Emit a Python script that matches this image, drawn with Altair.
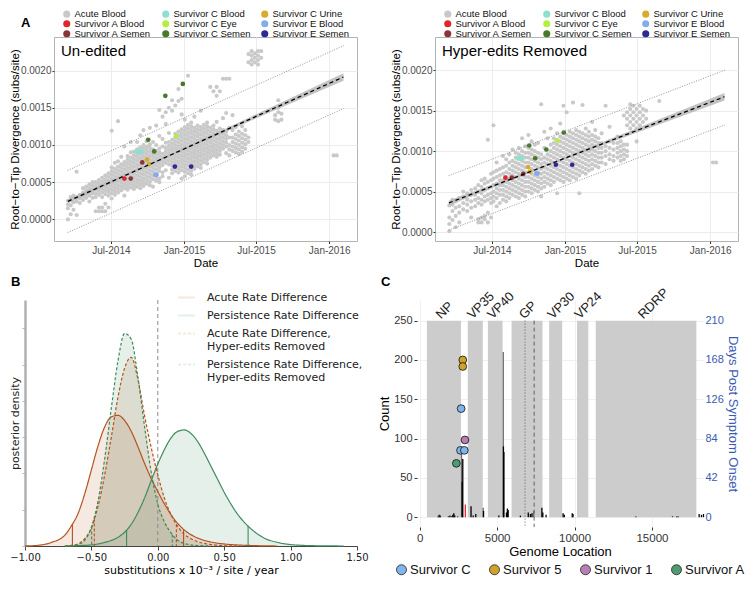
import altair as alt
import pandas as pd

FONT = "Liberation Sans"
MPL = "DejaVu Sans"

# ======================= Panel A data =======================
A_GROUPS = ["Acute Blood", "Survivor A Blood", "Survivor A Semen",
            "Survivor C Blood", "Survivor C Eye", "Survivor C Semen",
            "Survivor C Urine", "Survivor E Blood", "Survivor E Semen"]
A_COLORS = ["#c9c9c9", "#e0252b", "#8a3535", "#8de0cf", "#b3ef3e",
            "#46792c", "#d8aa30", "#85aaee", "#2f2995"]

# Acute blood cloud, un-edited; divergence in units of 1e-4 subs/site, one list per date
un_dates = ["2014-03-15", "2014-03-22", "2014-03-29", "2014-04-06", "2014-04-14", "2014-04-22",
            "2014-04-30", "2014-05-08", "2014-05-16", "2014-05-24", "2014-06-01", "2014-06-09",
            "2014-06-17", "2014-06-25", "2014-07-03", "2014-07-11", "2014-07-19", "2014-07-27",
            "2014-08-04", "2014-08-12", "2014-08-20", "2014-08-28", "2014-09-05", "2014-09-13",
            "2014-09-21", "2014-09-29", "2014-10-07", "2014-10-15", "2014-10-23", "2014-10-31",
            "2014-11-08", "2014-11-16", "2014-11-24", "2014-12-02", "2014-12-10", "2014-12-18",
            "2014-12-26", "2015-01-03", "2015-01-11", "2015-01-19", "2015-01-27", "2015-02-04",
            "2015-02-12", "2015-02-20", "2015-02-28", "2015-03-08", "2015-03-16", "2015-03-24",
            "2015-04-01", "2015-04-09", "2015-04-17", "2015-04-25", "2015-05-03", "2015-05-11",
            "2015-05-19", "2015-05-27", "2015-06-04", "2015-06-12", "2015-06-20", "2015-06-28",
            "2015-07-06", "2015-07-14", "2015-08-18", "2015-08-26", "2015-09-03", "2016-01-12",
            "2016-01-20"]
un_divs = [
    [0.0, 1.5, 2.0, 2.5], [0.7, 1.9, 2.6, 3.0], [1.3, 2.3, 3.2], [0.6, 2.4, 2.9, 6.4],
    [2.2, 2.8, 3.3], [2.6, 3.1, 3.6, 4.2], [2.9, 3.4, 3.9, 4.4], [2.4, 3.2, 3.7, 4.2, 4.7],
    [2.9, 3.5, 4.0, 4.5, 5.0], [1.1, 3.0, 3.5, 4.0, 4.5, 5.0], [1.1, 1.6, 3.3, 3.8, 4.3, 4.8, 5.3],
    [1.1, 1.6, 3.0, 3.6, 4.1, 4.6, 5.1, 5.6], [1.1, 2.1, 3.4, 3.9, 4.4, 4.9, 5.4, 5.9],
    [1.6, 3.2, 3.7, 4.2, 4.7, 5.2, 5.7, 6.2],
    [2.8, 3.5, 4.0, 4.5, 5.0, 5.5, 6.0, 6.5, 7.0, 11.9],
    [3.3, 3.8, 4.3, 4.8, 5.3, 5.8, 6.3, 6.8, 7.6],
    [3.6, 4.1, 4.6, 5.1, 5.6, 6.1, 6.6, 7.1, 7.8, 13.2],
    [3.9, 4.4, 4.9, 5.4, 5.9, 6.4, 6.9, 7.4, 8.4],
    [3.2, 4.2, 4.7, 5.2, 5.7, 6.2, 6.7, 7.2, 7.7, 9.8],
    [4.0, 4.5, 5.0, 5.5, 6.0, 6.5, 7.0, 7.5, 8.0, 8.5],
    [4.3, 4.8, 5.3, 5.8, 6.3, 6.8, 7.3, 7.8, 8.3, 9.0, 10.4],
    [4.1, 4.6, 5.1, 5.6, 6.1, 6.6, 7.1, 7.6, 8.1, 8.6, 9.1],
    [4.4, 4.9, 5.4, 5.9, 6.4, 6.9, 7.4, 7.9, 8.4, 8.9, 9.4, 10.4],
    [4.2, 4.7, 5.2, 5.7, 6.2, 6.7, 7.2, 7.7, 8.2, 8.7, 9.2, 9.7, 11.3],
    [4.5, 5.0, 5.5, 6.0, 6.5, 7.0, 7.5, 8.0, 8.5, 9.0, 9.5, 10.0, 12.0],
    [4.8, 5.3, 5.8, 6.3, 6.8, 7.3, 7.8, 8.3, 8.8, 9.3, 9.8, 10.5],
    [4.6, 5.1, 5.6, 6.1, 6.6, 7.1, 7.6, 8.1, 8.6, 9.1, 9.6, 10.1, 12.3],
    [4.4, 5.4, 5.9, 6.4, 6.9, 7.4, 7.9, 8.4, 8.9, 9.4, 10.4],
    [5.2, 5.7, 6.2, 6.7, 7.2, 7.7, 8.2, 8.7, 9.2, 10.0, 12.6],
    [5.0, 5.5, 6.5, 7.0, 7.5, 8.0, 8.5, 9.0, 9.5, 11.2, 14.7],
    [5.8, 6.3, 7.3, 7.8, 8.3, 8.8, 9.8, 10.8, 13.8],
    [6.6, 7.6, 8.1, 8.6, 9.1, 9.6, 10.3, 12.8, 14.4],
    [5.6, 7.4, 7.9, 8.4, 8.9, 9.4, 9.9, 10.4, 11.6, 15.0],
    [6.2, 6.7, 7.2, 7.7, 8.2, 8.7, 9.2, 9.7, 10.2, 10.7, 14.6, 16.0],
    [6.5, 7.0, 7.5, 8.0, 8.5, 9.0, 9.5, 10.0, 10.5, 11.0, 11.5, 15.3],
    [6.3, 6.8, 7.3, 7.8, 8.3, 8.8, 9.3, 9.8, 10.3, 10.8, 11.3, 11.8, 15.9, 17.5],
    [5.5, 6.6, 7.1, 7.6, 8.1, 8.6, 9.1, 9.6, 10.1, 10.6, 11.1, 11.6, 12.1, 14.1, 16.2],
    [5.8, 6.4, 6.9, 7.4, 7.9, 8.4, 8.9, 9.4, 9.9, 10.4, 10.9, 11.4, 11.9, 12.4, 13.4],
    [6.2, 6.7, 7.2, 7.7, 8.2, 8.7, 9.2, 9.7, 10.2, 10.7, 11.2, 11.7, 12.2, 12.7, 19.3],
    [6.0, 6.5, 7.0, 7.5, 8.0, 8.5, 9.0, 9.5, 10.0, 10.5, 11.0, 11.5, 12.0, 12.5, 13.0],
    [6.8, 7.3, 7.8, 8.3, 8.8, 9.3, 9.8, 10.3, 10.8, 11.3, 11.8, 12.3, 13.8],
    [7.1, 7.6, 8.1, 8.6, 9.1, 9.6, 10.1, 10.6, 11.1, 11.6, 12.1, 12.6],
    [6.9, 7.4, 7.9, 8.4, 8.9, 9.4, 9.9, 10.4, 10.9, 11.4, 11.9, 12.4, 14.6],
    [7.7, 8.2, 8.7, 9.2, 9.7, 10.2, 10.7, 11.2, 11.7, 12.2, 12.7],
    [7.5, 8.0, 8.5, 9.0, 9.5, 10.0, 10.5, 11.0, 11.5, 12.0, 12.5, 13.0],
    [8.3, 8.8, 9.3, 9.8, 10.3, 10.8, 11.3, 11.8, 12.3, 17.8],
    [8.6, 9.1, 9.6, 10.1, 10.6, 11.1, 11.6, 12.1, 12.6, 17.2],
    [8.4, 8.9, 9.4, 9.9, 10.4, 10.9, 11.4, 11.9, 13.1, 16.6, 17.8],
    [8.7, 9.2, 9.7, 10.2, 10.7, 11.2, 11.7, 12.2, 17.2],
    [9.5, 10.0, 10.5, 11.0, 11.5, 12.0, 13.6, 18.9],
    [8.9, 9.8, 10.3, 10.8, 11.3, 11.8, 14.3, 18.9],
    [8.6, 9.4, 10.0, 11.0, 12.3, 18.9],
    [9.2, 9.8, 10.4, 11.0, 12.0, 14.0],
    [9.0, 9.6, 10.2, 10.8, 11.4, 12.4],
    [8.8, 9.4, 10.0, 10.6, 11.2, 11.8],
    [9.1, 9.7, 10.3, 10.9, 11.5, 12.5],
    [9.5, 10.1, 10.7, 11.3, 12.0],
    [10.4, 11.0, 21.1, 22.2],
    [20.8, 21.4, 22.0, 22.6],
    [21.1, 21.7, 22.3],
    [20.8, 21.4, 22.0, 22.6],
    [21.7, 22.6],
    [13.4, 14.0],
    [13.2, 14.4, 15.0, 16.0],
    [13.4, 14.2],
    [8.6],
    [8.6],
]

# Acute blood cloud, hyper-edits removed (1e-4 subs/site)
he_dates = ["2014-03-16", "2014-03-24", "2014-04-01", "2014-04-10", "2014-04-20", "2014-04-30",
            "2014-05-10", "2014-05-20", "2014-05-28", "2014-06-05", "2014-06-13", "2014-06-21",
            "2014-06-29", "2014-07-05", "2014-07-13", "2014-07-21", "2014-07-29", "2014-08-06",
            "2014-08-14", "2014-08-22", "2014-08-30", "2014-09-07", "2014-09-15", "2014-09-23",
            "2014-10-01", "2014-10-09", "2014-10-17", "2014-10-25", "2014-11-02", "2014-11-10",
            "2014-11-18", "2014-11-26", "2014-12-04", "2014-12-12", "2014-12-20", "2014-12-28",
            "2015-01-05", "2015-01-13", "2015-01-21", "2015-01-29", "2015-02-06", "2015-02-14",
            "2015-02-22", "2015-03-02", "2015-03-10", "2015-03-18", "2015-03-26", "2015-04-03",
            "2015-04-13", "2015-04-23", "2015-05-03", "2015-05-13", "2015-05-21", "2015-05-29",
            "2015-06-06", "2015-06-14", "2015-06-22", "2015-06-30", "2015-07-08", "2015-07-16",
            "2015-07-24", "2015-08-26", "2016-01-08", "2016-01-16"]
he_divs = [
    [0.1, 1.0, 1.8, 3.3], [1.5, 2.6, 3.4, 4.0], [0.6, 2.0, 3.0, 3.8], [1.2, 2.4, 3.2, 4.2],
    [2.8, 3.6, 4.4, 5.0], [2.6, 3.4, 4.0, 4.8], [1.8, 3.0, 3.8, 4.6, 5.2],
    [3.2, 4.0, 4.6, 5.4], [1.2, 1.6, 3.6, 4.2, 5.0, 5.8],
    [1.2, 1.8, 3.4, 4.0, 4.8, 5.6, 6.4], [1.6, 2.0, 3.8, 4.4, 5.2, 6.0, 6.6],
    [1.2, 2.4, 4.0, 4.6, 5.4, 6.2, 11.4], [1.8, 3.6, 4.2, 4.8, 5.6, 6.4, 7.2],
    [3.8, 4.4, 5.0, 5.8, 6.6, 7.4, 13.2], [3.2, 4.2, 4.8, 5.4, 6.0, 6.8, 7.6, 8.6],
    [3.6, 4.6, 5.2, 5.8, 6.4, 7.0, 7.8], [4.0, 4.6, 5.2, 5.8, 6.4, 7.2, 8.0, 9.4],
    [3.8, 4.4, 5.0, 5.6, 6.2, 6.8, 7.4, 8.2, 9.0],
    [4.2, 4.8, 5.4, 6.0, 6.6, 7.2, 7.8, 8.6, 9.6],
    [4.6, 5.2, 5.8, 6.4, 7.0, 7.6, 8.2, 8.8, 10.2],
    [4.4, 5.0, 5.6, 6.2, 6.8, 7.4, 8.0, 8.6, 9.2, 9.8],
    [4.2, 4.8, 5.4, 6.0, 6.6, 7.2, 7.8, 8.4, 9.0, 9.6, 10.4],
    [4.6, 5.2, 5.8, 6.4, 7.0, 7.6, 8.2, 8.8, 9.4, 10.0, 11.6],
    [4.4, 5.0, 5.6, 6.2, 6.8, 7.4, 8.0, 8.6, 9.2, 9.8, 10.6],
    [5.0, 5.6, 6.2, 6.8, 7.4, 8.0, 8.6, 9.2, 9.8, 10.4, 12.0],
    [4.8, 5.4, 6.0, 6.6, 7.2, 7.8, 8.4, 9.0, 9.6, 10.2, 11.2],
    [5.2, 5.8, 6.4, 7.0, 7.6, 8.2, 8.8, 9.4, 10.0, 10.8],
    [5.0, 5.6, 6.2, 6.8, 7.4, 8.0, 8.6, 9.2, 9.8, 11.0],
    [4.4, 5.4, 6.0, 6.6, 7.2, 7.8, 8.4, 9.0, 9.6, 15.8],
    [5.6, 6.2, 6.8, 7.4, 8.0, 8.6, 9.2, 10.4, 12.4],
    [6.0, 6.6, 7.2, 7.8, 8.4, 9.0, 9.6, 11.6],
    [5.8, 6.4, 7.0, 7.6, 8.2, 8.8, 9.4, 10.0, 10.8, 12.8],
    [6.2, 6.8, 7.4, 8.0, 8.6, 9.2, 9.8, 10.4, 11.0, 11.6],
    [4.8, 6.6, 7.2, 7.8, 8.4, 9.0, 9.6, 10.2, 10.8, 11.4, 12.2],
    [6.4, 7.0, 7.6, 8.2, 8.8, 9.4, 10.0, 10.6, 11.2, 11.8, 13.4],
    [6.2, 6.8, 7.4, 8.0, 8.6, 9.2, 9.8, 10.4, 11.0, 11.6, 12.2, 15.6],
    [6.6, 7.2, 7.8, 8.4, 9.0, 9.6, 10.2, 10.8, 11.4, 12.0, 14.8],
    [6.4, 7.0, 7.6, 8.2, 8.8, 9.4, 10.0, 10.6, 11.2, 11.8, 12.4],
    [6.8, 7.4, 8.0, 8.6, 9.2, 9.8, 10.4, 11.0, 11.6, 12.2, 16.0],
    [6.6, 7.2, 7.8, 8.4, 9.0, 9.6, 10.2, 10.8, 11.4, 12.0, 12.6],
    [4.8, 7.0, 7.6, 8.2, 8.8, 9.4, 10.0, 10.6, 11.2, 11.8, 12.4],
    [7.4, 8.0, 8.6, 9.2, 9.8, 10.4, 11.0, 11.6, 12.2, 15.7],
    [7.2, 7.8, 8.4, 9.0, 9.6, 10.2, 10.8, 11.4, 12.0, 12.8],
    [7.6, 8.2, 8.8, 9.4, 10.0, 10.6, 11.2, 11.8, 12.4],
    [7.8, 8.4, 9.0, 9.6, 10.2, 10.8, 11.4, 12.0, 13.6],
    [8.2, 8.8, 9.4, 10.0, 10.6, 11.2, 11.8, 12.6],
    [8.0, 8.6, 9.2, 9.8, 10.4, 11.0, 11.6],
    [8.6, 9.2, 9.8, 10.4, 11.0, 12.2],
    [8.4, 9.4, 10.0, 10.6, 15.6],
    [9.0, 9.6, 10.4, 11.2, 13.0],
    [8.8, 9.4, 10.2, 11.0],
    [9.2, 9.8, 10.4, 11.0, 11.8],
    [8.8, 9.4, 10.0, 10.6, 11.2],
    [9.0, 9.6, 10.2, 10.8, 14.4],
    [9.4, 10.0, 10.8, 13.2, 14.0, 14.8],
    [12.8, 13.6, 14.4, 15.2, 15.8],
    [13.2, 14.0, 14.8, 15.6],
    [11.2, 12.8, 13.6, 14.4, 15.2],
    [13.2, 14.0, 14.8, 15.6],
    [13.6, 14.4, 15.2],
    [14.0, 15.0],
    [16.2],
    [8.6],
    [8.6],
]

# Survivor samples (1e-4 subs/site)
sv_groups = ["Survivor A Blood", "Survivor A Semen", "Survivor A Semen",
             "Survivor C Blood", "Survivor C Blood", "Survivor C Blood",
             "Survivor C Urine", "Survivor C Urine",
             "Survivor C Semen", "Survivor C Semen", "Survivor C Semen", "Survivor C Semen",
             "Survivor C Eye", "Survivor E Blood", "Survivor E Blood",
             "Survivor E Semen", "Survivor E Semen"]
sv_dates = ["2014-08-04", "2014-08-20", "2014-09-18",
            "2014-09-05", "2014-09-10", "2014-09-15",
            "2014-09-30", "2014-10-05",
            "2014-10-03", "2014-10-18", "2014-11-15", "2014-12-29",
            "2014-12-12", "2014-10-21", "2014-10-24",
            "2014-12-09", "2015-01-19"]
sv_un = [5.48, 5.48, 7.65, 9.13, 9.13, 9.13, 8.04, 7.43, 10.7, 9.13, 16.6, 18.2,
         11.2, 6.0, 6.0, 7.09, 7.09]
sv_he = [6.72, 6.72, 7.2, 9.12, 9.12, 9.12, 8.04, 7.48, 10.7, 9.12, 10.2, 12.3,
         11.3, 7.24, 7.24, 8.32, 8.32]

# Regression fit (dashed) with confidence ribbon, and prediction bounds (dotted)
fit_dates = ["2014-03-15", "2014-08-01", "2014-12-01", "2015-06-01", "2016-02-06"]
fit_un = [2.43, 5.78, 8.72, 13.11, 19.13]
ci_un = [0.30, 0.17, 0.12, 0.25, 0.50]
fit_he = [3.60, 6.23, 8.54, 11.99, 16.72]
ci_he = [0.30, 0.17, 0.12, 0.25, 0.45]
pred_dates = ["2014-03-14", "2016-02-07"]
pred_un_hi = [6.57, 23.35]
pred_un_lo = [-1.78, 14.90]
pred_he_hi = [6.96, 20.00]
pred_he_lo = [0.24, 13.24]

A_TICKS = [alt.DateTime(year=2014, month=7, date=1), alt.DateTime(year=2015, month=1, date=1),
           alt.DateTime(year=2015, month=7, date=1), alt.DateTime(year=2016, month=1, date=1)]
A_XDOM = [alt.DateTime(year=2014, month=2, date=8), alt.DateTime(year=2016, month=3, date=11)]
A_YTICKS = [0, 0.0005, 0.001, 0.0015, 0.002]
A_W = 303
A_H = 204

E4 = 1e-4


def cloud_df(dates, divs):
    rows = []
    for d, vs in zip(dates, divs):
        for v in vs:
            rows.append({"date": d, "div": v * E4, "group": "Acute Blood"})
    return pd.DataFrame(rows)


def panel_a(title, cdates, cdivs, sv_vals, fit_vals, ci_vals, hi_vals, lo_vals, ydom, letter):
    xa = alt.X("date:T", scale=alt.Scale(domain=A_XDOM),
               axis=alt.Axis(values=A_TICKS, format="%b-%Y", title="Date", labelFontSize=10,
                             titleFontSize=11.5, labelColor="#4d4d4d", tickColor="#333333",
                             tickSize=2.5, domain=False, gridColor="#ececec", labelFlush=False,
                             labelPadding=2, titlePadding=2, labelFont=FONT, titleFont=FONT,
                             titleFontWeight="normal"))

    def ya(field):
        return alt.Y(field, scale=alt.Scale(domain=ydom, nice=False, zero=False),
                     axis=alt.Axis(values=A_YTICKS, format=".4f",
                                   title="Root\u2212to\u2212Tip Divergence (subs/site)",
                                   labelFontSize=10, titleFontSize=11.5, labelColor="#4d4d4d",
                                   tickColor="#333333", tickSize=2, domain=False,
                                   gridColor="#ececec", labelPadding=1, titlePadding=0,
                                   labelFont=FONT, titleFont=FONT, titleFontWeight="normal"))

    leg = alt.Legend(title=None, orient="none", legendX=8, legendY=-28, columns=3,
                     symbolType="circle", symbolSize=50, symbolStrokeWidth=0,
                     labelFontSize=9.5, labelFont=FONT, labelColor="#111111",
                     rowPadding=-5, columnPadding=9, labelOffset=3, padding=0)
    col = alt.Color("group:N", scale=alt.Scale(domain=A_GROUPS, range=A_COLORS), legend=leg)

    cdf = cloud_df(cdates, cdivs)
    sdf = pd.DataFrame({"group": sv_groups, "date": sv_dates, "div": [v * E4 for v in sv_vals]})
    fdf = pd.DataFrame({"date": fit_dates, "div": [v * E4 for v in fit_vals],
                        "lo": [(f - c) * E4 for f, c in zip(fit_vals, ci_vals)],
                        "hi": [(f + c) * E4 for f, c in zip(fit_vals, ci_vals)]})
    pdf = pd.DataFrame({"date": pred_dates * 2, "div": [v * E4 for v in hi_vals + lo_vals],
                        "side": ["hi", "hi", "lo", "lo"]})

    cloud = alt.Chart(cdf).mark_circle(size=17, opacity=1).encode(x=xa, y=ya("div:Q"), color=col)
    band = alt.Chart(fdf).mark_area(color="#b9b9b9", opacity=0.85).encode(
        x=xa, y=ya("lo:Q"), y2="hi:Q")
    surv = alt.Chart(sdf).mark_circle(size=22, opacity=1).encode(x=xa, y=ya("div:Q"), color=col)
    fit = alt.Chart(fdf).mark_line(color="black", strokeDash=[4, 3], strokeWidth=1.3).encode(
        x=xa, y=ya("div:Q"))
    pred = alt.Chart(pdf).mark_line(color="#7a7a7a", strokeDash=[1, 1.5], strokeWidth=0.8).encode(
        x=xa, y=ya("div:Q"), detail="side:N")
    txt = alt.Chart(pd.DataFrame({"t": [title]})).mark_text(
        align="left", baseline="alphabetic", fontSize=15, font=FONT, color="black").encode(
        x=alt.value(7), y=alt.value(19), text="t:N")
    layers = [cloud, band, surv, fit, pred, txt]
    if letter:
        lab = alt.Chart(pd.DataFrame({"t": [letter]})).mark_text(
            align="left", baseline="top", fontSize=13, fontWeight="bold", font=FONT,
            color="black").encode(x=alt.value(-33), y=alt.value(-20), text="t:N")
        layers.append(lab)
    return alt.layer(*layers).properties(
        width=A_W, height=A_H, view=alt.ViewBackground(stroke="#b3b3b3", strokeWidth=1))


A1 = panel_a("Un-edited", un_dates, un_divs, sv_un, fit_un, ci_un, pred_un_hi, pred_un_lo,
             [-0.00029, 0.00245], "A")
A2 = panel_a("Hyper-edits Removed", he_dates, he_divs, sv_he, fit_he, ci_he, pred_he_hi,
             pred_he_lo, [-0.00011, 0.00241], None)

# ======================= Panel B data =======================
B_SERIES = ["Acute Rate Difference", "Persistence Rate Difference",
            "Acute Rate Difference, Hyper-edits Removed",
            "Persistence Rate Difference, Hyper-edits Removed"]
B_COLORS = ["#b4531e", "#3d8b5d", "#b4531e", "#3d8b5d"]
B_DASH = [[1, 0], [1, 0], [3, 2], [3, 2]]

as_x = [-1.0, -0.9, -0.8, -0.7, -0.65, -0.6, -0.55, -0.5, -0.45, -0.4, -0.35, -0.3, -0.25, -0.2,
        -0.15, -0.1, -0.05, 0.0, 0.05, 0.1, 0.15, 0.2, 0.3, 0.4, 0.5, 0.6, 0.7, 0.8, 0.9]
as_d = [0.0, 0.01, 0.05, 0.15, 0.28, 0.45, 0.72, 1.05, 1.38, 1.64, 1.78, 1.80, 1.73, 1.58,
        1.37, 1.14, 0.93, 0.75, 0.58, 0.43, 0.31, 0.22, 0.11, 0.055, 0.028, 0.014, 0.007, 0.002, 0.0]
ps_x = [-0.7, -0.6, -0.5, -0.4, -0.3, -0.25, -0.2, -0.15, -0.1, -0.05, 0.0, 0.05, 0.1, 0.15, 0.2,
        0.25, 0.3, 0.35, 0.4, 0.45, 0.5, 0.55, 0.6, 0.65, 0.7, 0.8, 0.9, 1.0, 1.1, 1.2, 1.3, 1.4]
ps_d = [0.0, 0.005, 0.015, 0.05, 0.12, 0.19, 0.30, 0.46, 0.66, 0.90, 1.13, 1.33, 1.49, 1.58, 1.60,
        1.55, 1.44, 1.28, 1.10, 0.92, 0.74, 0.58, 0.44, 0.33, 0.24, 0.11, 0.05, 0.02, 0.008, 0.003,
        0.001, 0.0]
ad_x = [-0.7, -0.65, -0.6, -0.55, -0.5, -0.45, -0.4, -0.35, -0.3, -0.25, -0.2, -0.15, -0.1, -0.05,
        0.0, 0.05, 0.1, 0.15, 0.2, 0.25, 0.3, 0.4, 0.5, 0.6]
ad_d = [0.0, 0.01, 0.03, 0.1, 0.25, 0.55, 0.98, 1.5, 2.05, 2.45, 2.60, 2.30, 1.80, 1.36, 0.98,
        0.66, 0.43, 0.27, 0.16, 0.10, 0.06, 0.02, 0.005, 0.0]
pd_x = [-0.7, -0.65, -0.6, -0.55, -0.5, -0.45, -0.4, -0.35, -0.3, -0.25, -0.2, -0.15, -0.1, -0.05,
        0.0, 0.05, 0.1, 0.15, 0.2, 0.3, 0.4]
pd_d = [0.0, 0.005, 0.02, 0.08, 0.26, 0.62, 1.2, 1.9, 2.55, 2.93, 2.85, 2.33, 1.65, 1.02, 0.58,
        0.33, 0.18, 0.08, 0.035, 0.006, 0.0]

hpd_series = [B_SERIES[0], B_SERIES[0], B_SERIES[1], B_SERIES[1],
              B_SERIES[2], B_SERIES[2], B_SERIES[3], B_SERIES[3]]
hpd_x = [-0.643, 0.194, -0.235, 0.68, -0.478, 0.14, -0.498, 0.109]
hpd_d = [0.30, 0.23, 0.22, 0.28, 0.38, 0.30, 0.27, 0.16]

curves = pd.concat([
    pd.DataFrame({"series": B_SERIES[0], "x": as_x, "d": as_d}),
    pd.DataFrame({"series": B_SERIES[1], "x": ps_x, "d": ps_d}),
    pd.DataFrame({"series": B_SERIES[2], "x": ad_x, "d": ad_d}),
    pd.DataFrame({"series": B_SERIES[3], "x": pd_x, "d": pd_d}),
], ignore_index=True)
hpd = pd.DataFrame({"series": hpd_series, "x": hpd_x, "d": hpd_d})

B_W = 303      # view width (shares its left edge with panel A's plot)
B_LEFT = 29    # the density axis sits this far left of that edge
bx = alt.X("x:Q", scale=alt.Scale(domain=[-1, 1.5], range=[-B_LEFT, B_W], nice=False, zero=False),
           axis=alt.Axis(values=[-1, -0.5, 0, 0.5, 1, 1.5], format=".2f",
                         title="substitutions x 10\u207b\u00b3 / site / year", grid=False,
                         labelFont=MPL, titleFont=MPL, labelFontSize=10, titleFontSize=11,
                         titleFontWeight="normal", labelColor="#222222", domainColor="#444444",
                         tickColor="#444444", tickSize=4, labelFlush=False, labelPadding=2,
                         titlePadding=2))
by = alt.Y("d:Q", stack=None, scale=alt.Scale(domain=[0, 3.39], nice=False),
           axis=alt.Axis(values=[0, 0.5, 1, 1.5, 2, 2.5, 3], labels=False, tickSize=3,
                         tickColor="#bbbbbb", domainColor="#b0b0b0", domainWidth=2.5, grid=False,
                         offset=B_LEFT, title="posterior density", titleFont=MPL,
                         titleFontSize=11, titleFontWeight="normal", titleColor="#222222",
                         titlePadding=1))
b_leg = alt.Legend(title=None, orient="none", legendX=123, legendY=-12, symbolType="stroke",
                   symbolSize=280, symbolStrokeWidth=1.8, labelFont=MPL, labelFontSize=11,
                   labelColor="#222222", labelLimit=320, rowPadding=3, labelOffset=11, padding=0,
                   symbolFillColor="transparent",
                   labelExpr="split(replace(datum.label, ', Hyper', ',|Hyper'), '|')")
b_col_scale = alt.Scale(domain=B_SERIES, range=B_COLORS)
b_dash_scale = alt.Scale(domain=B_SERIES, range=B_DASH)
b_color = alt.Color("series:N", scale=b_col_scale, legend=b_leg)
b_dash = alt.StrokeDash("series:N", scale=b_dash_scale, legend=b_leg)

b_area = alt.Chart(curves).mark_area(interpolate="monotone", opacity=0.13).encode(
    x=bx, y=by, color=b_color)
b_line = alt.Chart(curves).mark_line(interpolate="monotone", strokeWidth=1.2).encode(
    x=bx, y=by, color=b_color, strokeDash=b_dash)
b_hpd = alt.Chart(hpd).mark_rule(strokeWidth=1.1).encode(
    x=bx, y=by, y2=alt.datum(0), color=b_color, strokeDash=b_dash)
b_zero = alt.Chart(pd.DataFrame({"z": [0]})).mark_rule(
    color="#8c8c8c", strokeDash=[4, 3], strokeWidth=1).encode(x=alt.X("z:Q"))
b_lab = alt.Chart(pd.DataFrame({"t": ["B"]})).mark_text(
    align="left", baseline="top", fontSize=13, fontWeight="bold", font=FONT, color="black").encode(
    x=alt.value(-43), y=alt.value(-24), text="t:N")
B = alt.layer(b_area, b_zero, b_line, b_hpd, b_lab).properties(width=B_W, height=246)

# ======================= Panel C data =======================
gene_names = ["NP", "VP35", "VP40", "GP", "VP30", "VP24", "RDRP"]
gene_start = [460, 3100, 4400, 5930, 8360, 10160, 11370]
gene_end = [2660, 4070, 5350, 7930, 9200, 10890, 17870]
COUNT_TOP = 250

bar_pos = [1180, 1250, 1320, 1850, 1950, 2050, 2130, 2200, 2260, 2450,
           2697, 2740, 2778, 2943, 3311, 3450, 3617, 4096, 4120, 5110,
           5394, 5405, 5435, 5600, 5660, 5710, 6500, 7010, 7150, 7250,
           7360, 7890, 7950, 8160, 9260, 9340, 9850, 9900, 13960, 16330,
           16600, 16700, 18050, 18200, 18330]
bar_count = [1, 3, 2, 1, 2, 1, 3, 5, 2, 1,
             86, 45, 74, 16, 14, 2, 4, 12, 8, 2,
             210, 90, 83, 6, 11, 9, 2, 6, 4, 5,
             8, 12, 6, 3, 5, 3, 5, 4, 1, 1,
             1, 1, 4, 3, 4]
bar_shade = ["black", "black", "black", "black", "black", "black", "black", "black", "black", "black",
             "gray", "black", "black", "red", "black", "black", "black", "gray", "black", "black",
             "gray", "black", "black", "black", "black", "black", "black", "black", "black", "black",
             "gray", "black", "black", "black", "black", "black", "black", "black", "black", "black",
             "black", "black", "black", "black", "black"]

vline_pos = [6800, 7390]
vline_kind = ["dotted", "dashed"]

C_GROUPS = ["Survivor C", "Survivor 5", "Survivor 1", "Survivor A"]
C_COLORS = ["#80b4ea", "#d0a22c", "#b97fb5", "#4f9b72"]
pt_group = ["Survivor 5", "Survivor 5", "Survivor C", "Survivor C", "Survivor 1", "Survivor C",
            "Survivor A"]
pt_pos = [2778, 2778, 2673, 2630, 2920, 2877, 2364]
pt_days = [168, 161, 116, 71.4, 82.5, 71.4, 57.5]

genes = pd.DataFrame({"name": gene_names, "start": gene_start, "end": gene_end})
genes["mid"] = (genes["start"] + genes["end"]) / 2
bars = pd.DataFrame({"pos": bar_pos, "count": bar_count, "shade": bar_shade})
vlines = pd.DataFrame({"pos": vline_pos, "kind": vline_kind})
pts = pd.DataFrame({"survivor": pt_group, "pos": pt_pos, "days": pt_days})

cx_scale = alt.Scale(domain=[-180, 18300], nice=False, zero=False)
cx_axis = alt.Axis(values=[0, 5000, 10000, 15000], format="d", title="Genome Location",
                   labelFont=FONT, titleFont=FONT, labelFontSize=11.5, titleFontSize=13,
                   titleFontWeight="normal", labelColor="#333333", tickColor="#333333",
                   tickSize=3, domain=False, gridColor="#f0f0f0", labelFlush=False,
                   labelPadding=2, titlePadding=2)
cx = alt.X("pos:Q", scale=cx_scale, axis=cx_axis)
cy_scale = alt.Scale(domain=[-12.5, 276.25], nice=False, zero=False)
cy_axis = alt.Axis(values=[0, 50, 100, 150, 200, 250], title="Count", labelFont=FONT,
                   titleFont=FONT, labelFontSize=11, titleFontSize=13, titleFontWeight="normal",
                   labelColor="#333333", tickColor="#333333", tickSize=3, domain=False,
                   gridColor="#f0f0f0", labelPadding=2, titlePadding=2)

c_rect = alt.Chart(genes).mark_rect(color="#cccccc").transform_calculate(
    count0="0", top=str(COUNT_TOP)
).encode(
    x=alt.X("start:Q", scale=cx_scale, axis=cx_axis), x2="end:Q",
    y=alt.Y("count0:Q", scale=cy_scale, axis=cy_axis), y2="top:Q")
c_bar = alt.Chart(bars).mark_rule(strokeWidth=1.3).encode(
    x=cx, y=alt.Y("count:Q", scale=cy_scale, axis=cy_axis), y2=alt.datum(0),
    color=alt.Color("shade:N", scale=alt.Scale(domain=["black", "gray", "red"],
                                                range=["#000000", "#6a6a6a", "#ee2a2a"]),
                    legend=None))
c_vline = alt.Chart(vlines).mark_rule(color="#555555", strokeWidth=0.9).encode(
    x=cx, y=alt.datum(COUNT_TOP), y2=alt.datum(-12.5),
    strokeDash=alt.StrokeDash("kind:N", scale=alt.Scale(domain=["dotted", "dashed"],
                                                        range=[[1, 2], [4, 3]]),
                              legend=None))
c_text = alt.Chart(genes).mark_text(angle=315, align="left", baseline="alphabetic", fontSize=13,
                                     font=FONT, color="#222222", dx=-4).encode(
    x=alt.X("mid:Q", scale=cx_scale), y=alt.datum(COUNT_TOP + 5), text="name:N")
c_lab = alt.Chart(pd.DataFrame({"t": ["C"]})).mark_text(
    align="left", baseline="top", fontSize=13, fontWeight="bold", font=FONT, color="black").encode(
    x=alt.value(-36), y=alt.value(-24), text="t:N")
c_base = alt.layer(c_rect, c_bar, c_vline, c_text, c_lab)

c_leg = alt.Legend(title=None, orient="none", direction="horizontal", legendX=-22, legendY=263,
                   symbolType="circle", symbolSize=100, symbolStrokeColor="#222222",
                   symbolStrokeWidth=0.8, labelFont=FONT, labelFontSize=13, labelColor="#111111",
                   columnPadding=16, labelOffset=2, padding=0)
c_pts = alt.Chart(pts).mark_point(filled=True, size=60, stroke="#111111", strokeWidth=0.8,
                                  opacity=1).encode(
    x=cx,
    y=alt.Y("days:Q", scale=alt.Scale(domain=[-10.5, 232.05], nice=False, zero=False),
            axis=alt.Axis(orient="right", values=[0, 42, 84, 126, 168, 210],
                          title="Days Post Symptom Onset", labelFont=FONT, titleFont=FONT,
                          labelFontSize=11, titleFontSize=13, titleFontWeight="normal",
                          labelColor="#3a5bb0", titleColor="#3a5bb0", ticks=False, domain=False,
                          grid=False, labelPadding=2, titlePadding=2)),
    color=alt.Color("survivor:N", scale=alt.Scale(domain=C_GROUPS, range=C_COLORS), legend=c_leg))

C = alt.layer(c_base, c_pts).resolve_scale(y="independent", color="independent",
                                            strokeDash="independent").properties(
    width=286, height=227)

top = alt.hconcat(A1, A2, spacing=31).resolve_scale(color="independent")
bottom = alt.hconcat(B, C, spacing=-8).resolve_scale(color="independent",
                                                     strokeDash="independent")
chart = alt.vconcat(top, bottom, spacing=6).resolve_scale(
    color="independent", strokeDash="independent"
).properties(
    padding={"left": 0, "top": 0, "right": 0, "bottom": 0}
).configure(font=FONT).configure_view(strokeWidth=0)

chart.save("out.html", embed_options={"renderer": "svg", "actions": False})
